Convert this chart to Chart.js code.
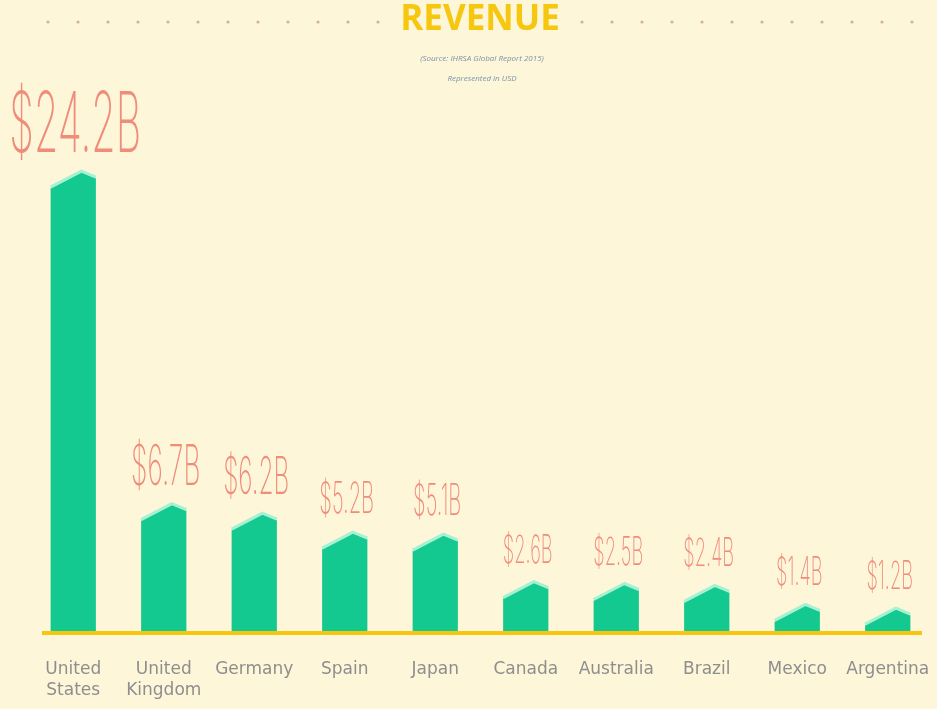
<!DOCTYPE html>
<html>
<head>
<meta charset="utf-8">
<title>Revenue</title>
<script src="https://cdn.jsdelivr.net/npm/chart.js@4.4.1/dist/chart.umd.min.js"></script>
<style>
  html, body { margin: 0; padding: 0; background: #fdf6d9; }
  canvas { display: block; }
</style>
</head>
<body>
<canvas id="chart" width="937" height="709"></canvas>
<script>
/* Revenue by country - house shaped bars, values in billions USD */

var COUNTRIES = [['United', 'States'], ['United', 'Kingdom'], 'Germany', 'Spain', 'Japan',
  'Canada', 'Australia', 'Brazil', 'Mexico', 'Argentina'];
var REVENUE = [24.2, 6.7, 6.2, 5.2, 5.1, 2.6, 2.5, 2.4, 1.4, 1.2];
var VALUE_LABELS = ['$24.2B', '$6.7B', '$6.2B', '$5.2B', '$5.1B', '$2.6B', '$2.5B', '$2.4B', '$1.4B', '$1.2B'];
var TITLE = 'REVENUE';
var SUBTITLE = ['(Source: IHRSA Global Report 2015)', 'Represented in USD'];

(function () {
  'use strict';

  var BG = '#fdf6d9';
  var GREEN = '#14c98f';
  var MINT = '#a6f0d4';
  var YELLOW = '#f6c70e';
  var SALMON = '#f08c7a';
  var LABEL_SIZES = [84, 56, 52, 43, 43, 39, 39, 39, 39, 39];

  // background, title, dotted rule, source lines
  var headerPlugin = {
    id: 'header',
    beforeDraw: function (chart) {
      var ctx = chart.ctx;
      ctx.save();
      ctx.fillStyle = BG;
      ctx.fillRect(0, 0, chart.width, chart.height);

      ctx.fillStyle = '#d8aea6';
      var x;
      for (x = 48; x < 390; x += 30) {
        ctx.beginPath(); ctx.arc(x, 22, 1.6, 0, Math.PI * 2); ctx.fill();
      }
      for (x = 582; x < 930; x += 30) {
        ctx.beginPath(); ctx.arc(x, 22, 1.6, 0, Math.PI * 2); ctx.fill();
      }

      ctx.textAlign = 'center';
      ctx.textBaseline = 'alphabetic';
      ctx.fillStyle = YELLOW;
      ctx.font = 'bold 35px "Open Sans", sans-serif';
      ctx.fillText(TITLE, 480, 30);

      ctx.fillStyle = '#7d92ad';
      ctx.font = 'italic 8px "Open Sans", sans-serif';
      ctx.fillText(SUBTITLE[0], 482, 61);
      ctx.fillText(SUBTITLE[1], 482, 81);
      ctx.restore();
    }
  };

  // house shaped bars drawn on the bar elements' geometry
  var houseBars = {
    id: 'houseBars',
    afterDatasetsDraw: function (chart) {
      var ctx = chart.ctx;
      var meta = chart.getDatasetMeta(0);
      ctx.save();
      meta.data.forEach(function (el) {
        var w = el.width;
        var left = el.x - w / 2;
        var right = el.x + w / 2;
        var peakX = left + w * 0.68;
        var top = el.y;
        var base = el.base;

        ctx.beginPath();
        ctx.moveTo(left, base);
        ctx.lineTo(left, top + 16);
        ctx.lineTo(peakX, top);
        ctx.lineTo(right, top + 6);
        ctx.lineTo(right, base);
        ctx.closePath();
        ctx.fillStyle = GREEN;
        ctx.fill();

        ctx.beginPath();
        ctx.moveTo(left, top + 15);
        ctx.lineTo(peakX, top - 1);
        ctx.lineTo(right, top + 5);
        ctx.strokeStyle = MINT;
        ctx.lineWidth = 3;
        ctx.lineJoin = 'round';
        ctx.stroke();
      });

      var y0 = chart.scales.y.getPixelForValue(0) + 1;
      ctx.beginPath();
      ctx.moveTo(chart.chartArea.left + 14, y0);
      ctx.lineTo(chart.chartArea.right - 11, y0);
      ctx.strokeStyle = YELLOW;
      ctx.lineWidth = 4;
      ctx.stroke();

      // value labels, condensed
      ctx.fillStyle = SALMON;
      ctx.textAlign = 'center';
      ctx.textBaseline = 'alphabetic';
      meta.data.forEach(function (el, i) {
        ctx.save();
        ctx.translate(el.x + 2, el.y - 20);
        ctx.scale(0.47, 1);
        ctx.font = '200 ' + LABEL_SIZES[i] + 'px Inter, sans-serif';
        ctx.fillText(VALUE_LABELS[i], 0, 0);
        ctx.restore();
      });
      ctx.restore();
    }
  };

  function init() {
    new Chart(document.getElementById('chart'), {
      type: 'bar',
      data: {
        labels: COUNTRIES,
        datasets: [{
          data: REVENUE,
          backgroundColor: 'rgba(0,0,0,0)',
          borderWidth: 0,
          categoryPercentage: 1,
          barPercentage: 0.5
        }]
      },
      options: {
        responsive: false,
        animation: false,
        layout: { padding: { top: 62, left: 28, right: 4, bottom: 6 } },
        plugins: {
          legend: { display: false },
          tooltip: { enabled: false }
        },
        scales: {
          x: {
            grid: { display: false, drawTicks: false },
            border: { display: false },
            afterFit: function (scale) {
              scale.height = 71;
              scale.paddingLeft = 0;
              scale.paddingRight = 0;
            },
            ticks: {
              autoSkip: false,
              maxRotation: 0,
              padding: 27,
              color: '#8e8e8e',
              font: { family: '"DejaVu Sans", sans-serif', size: 17, lineHeight: 1.25 }
            }
          },
          y: {
            display: false,
            min: 0,
            max: 30
          }
        }
      },
      plugins: [headerPlugin, houseBars]
    });
  }

  init();
})();
</script>
</body>
</html>
